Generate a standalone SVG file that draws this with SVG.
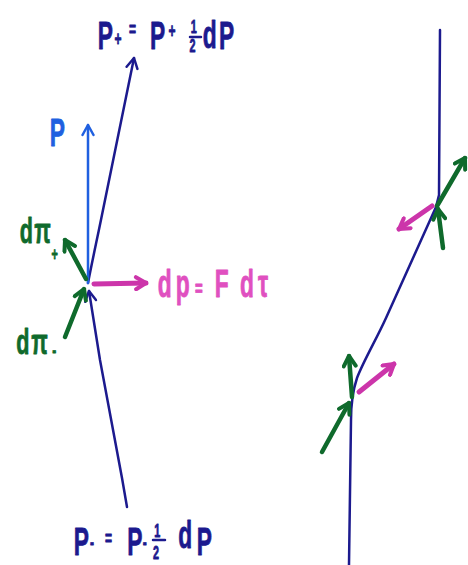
<svg xmlns="http://www.w3.org/2000/svg" width="468" height="565" viewBox="0 0 468 565">
<style>
  .nv{fill:none;stroke:#1c1a8e;stroke-width:2.5;stroke-linecap:round;stroke-linejoin:round}
  .bl{fill:none;stroke:#2060e0;stroke-width:2.5;stroke-linecap:round}
  .gr{fill:none;stroke:#0f6a2c;stroke-width:4.5;stroke-linecap:round}
  .mg{fill:none;stroke:#cc35aa;stroke-width:5;stroke-linecap:round}
  text{font-family:"Liberation Sans","DejaVu Sans",sans-serif;font-weight:bold;stroke-width:0.8;stroke-linejoin:round}
  .tnv{fill:#1c1a8e;stroke:#1c1a8e}
  .tbl{fill:#2060e0;stroke:#2060e0}
  .tgr{fill:#0f6a2c;stroke:#0f6a2c}
  .tmg{fill:#e050c0;stroke:#e050c0}
</style>
<defs>
  <marker id="hNv" viewBox="0 0 14 14" refX="12" refY="7" markerWidth="14" markerHeight="14" markerUnits="userSpaceOnUse" orient="auto"><path d="M2,1.5 L12,7 L2,12.5" fill="none" stroke="#1c1a8e" stroke-width="2.5" stroke-linecap="round" stroke-linejoin="round"/></marker>
  <marker id="hBl" viewBox="0 0 14 14" refX="12" refY="7" markerWidth="14" markerHeight="14" markerUnits="userSpaceOnUse" orient="auto"><path d="M2,1.5 L12,7 L2,12.5" fill="none" stroke="#2060e0" stroke-width="2.5" stroke-linecap="round" stroke-linejoin="round"/></marker>
  <marker id="hGr" viewBox="0 0 16 16" refX="13" refY="8" markerWidth="16" markerHeight="16" markerUnits="userSpaceOnUse" orient="auto"><path d="M3,2 L13,8 L3,14" fill="none" stroke="#0f6a2c" stroke-width="4" stroke-linecap="round" stroke-linejoin="round"/></marker>
  <marker id="hMg" viewBox="0 0 16 16" refX="13" refY="8" markerWidth="16" markerHeight="16" markerUnits="userSpaceOnUse" orient="auto"><path d="M3,2 L13,8 L3,14" fill="none" stroke="#cc35aa" stroke-width="4" stroke-linecap="round" stroke-linejoin="round"/></marker>
</defs>
<rect width="468" height="565" fill="#ffffff"/>

<g id="connectors">
  <path class="nv" d="M127,507 L122,478 L100,360 C96,335 92,310 89,291" marker-end="url(#hNv)"/>
  <path class="nv" d="M88,283 C92,262 98,235 104,205 L134,58" marker-end="url(#hNv)"/>
  <path class="bl" d="M88,283 L88,125" marker-end="url(#hBl)"/>
  <path class="gr" d="M86,279 L65,240" marker-end="url(#hGr)"/>
  <path class="gr" d="M65,337 L84,289" marker-end="url(#hGr)"/>
  <path class="mg" d="M94,284 L146,283" marker-end="url(#hMg)"/>
  <path class="nv" d="M440,30 L439,195 L436,207 L386,318 C376,340 364,360 357,378 C353,390 351,400 351,420 L349,565"/>
  <path class="gr" d="M437,206 L465,158" marker-end="url(#hGr)"/>
  <path class="gr" d="M443,248 L438,209" marker-end="url(#hGr)"/>
  <path class="mg" d="M432,206 L399,229" marker-end="url(#hMg)"/>
  <path class="gr" d="M352,397 L349,356" marker-end="url(#hGr)"/>
  <path class="gr" d="M322,452 L349,403" marker-end="url(#hGr)"/>
  <path class="mg" d="M359,392 L394,364" marker-end="url(#hMg)"/>
</g>

<g id="label-Pplus">
  <text class="tnv" transform="scale(0.6,1)" font-size="38">
    <tspan x="163" y="49">P</tspan><tspan x="191" y="46" font-size="20">+</tspan><tspan x="215" y="36" font-size="20">=</tspan><tspan x="250" y="49">P</tspan><tspan x="281" y="38" font-size="20">+</tspan><tspan x="318" y="33" font-size="18">1</tspan><tspan x="316" y="52" font-size="18">2</tspan><tspan x="338" y="48">d</tspan><tspan x="365" y="49">P</tspan>
  </text>
  <path class="nv" d="M190,37 L201,37" stroke-width="2"/>
</g>

<g id="label-Pminus">
  <text class="tnv" transform="scale(0.6,1)" font-size="38">
    <tspan x="123" y="555">P</tspan><tspan x="150" y="549" font-size="20">-</tspan><tspan x="175" y="545" font-size="20">=</tspan><tspan x="212" y="555">P</tspan><tspan x="238" y="549" font-size="20">-</tspan><tspan x="257" y="537" font-size="18">1</tspan><tspan x="255" y="559" font-size="18">2</tspan><tspan x="297" y="548">d</tspan><tspan x="328" y="555">P</tspan>
  </text>
  <path class="nv" d="M153,540 L165,540" stroke-width="2"/>
</g>

<g id="label-P">
  <text class="tbl" transform="scale(0.6,1)" font-size="38" x="83" y="146">P</text>
</g>

<g id="label-dp">
  <text class="tmg" transform="scale(0.6,1)" font-size="38">
    <tspan x="263" y="297">d</tspan><tspan x="293" y="297">p</tspan><tspan x="325" y="296" font-size="22">=</tspan><tspan x="358" y="297">F</tspan><tspan x="400" y="297">d</tspan><tspan x="430" y="297">τ</tspan>
  </text>
</g>

<g id="label-dpi-plus">
  <text class="tgr" transform="scale(0.6,1)" font-size="36">
    <tspan x="33" y="243">d</tspan><tspan x="57" y="243">π</tspan><tspan x="86" y="260" font-size="18">+</tspan>
  </text>
</g>

<g id="label-dpi-minus">
  <text class="tgr" transform="scale(0.6,1)" font-size="36">
    <tspan x="27" y="354">d</tspan><tspan x="52" y="354">π</tspan><tspan x="87" y="357" font-size="20">-</tspan>
  </text>
</g>
</svg>
